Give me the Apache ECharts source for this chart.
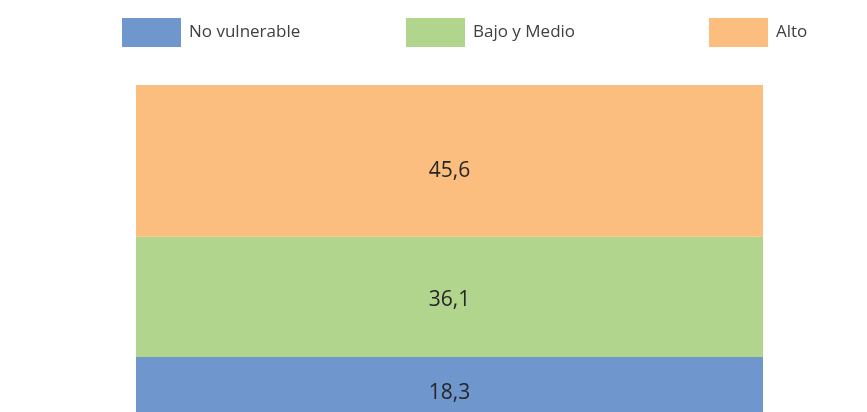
<!DOCTYPE html>
<html>
<head>
<meta charset="utf-8">
<script src="https://cdn.jsdelivr.net/npm/echarts@6/dist/echarts.min.js"></script>
<style>
  html, body { margin: 0; padding: 0; background: #fff; }
  #chart { width: 867px; height: 412px; }
</style>
</head>
<body>
<div id="chart"></div>
<script>
var categories = ["Total"];
var seriesNames = ["No vulnerable", "Bajo y Medio", "Alto"];
var noVulnerable = [18.3];
var bajoMedio = [36.1];
var alto = [45.6];
var colors = ["#6F96CD", "#B1D58C", "#FBBE7E"];

var myChart = echarts.init(document.getElementById("chart"));
var fontName = "'Open Sans', sans-serif";

function fmt(p) {
  return String(p.value).replace(".", ",");
}

function makeSeries(name, data, color, dy) {
  return {
    name: name,
    type: "bar",
    stack: "total",
    data: data,
    barWidth: "100%",
    itemStyle: { color: color },
    label: {
      show: true,
      position: "inside",
      offset: [0, dy],
      formatter: fmt,
      color: "#262626",
      fontSize: 21,
      fontFamily: fontName
    }
  };
}

var legendLefts = [122, 406, 709];
var legends = seriesNames.map(function (n, i) {
  return {
    data: [n],
    left: legendLefts[i],
    top: 18,
    itemWidth: 59,
    itemHeight: 29,
    padding: 0,
    icon: "rect",
    selectedMode: false,
    textStyle: { fontSize: 17, color: "#404040", fontFamily: fontName, padding: [0, 0, 0, 3] }
  };
});

var option = {
  animation: false,
  legend: legends,
  grid: { left: 136, right: 104, top: 85, height: 333, outerBoundsMode: "none", containLabel: false },
  xAxis: {
    type: "category",
    data: categories,
    show: false
  },
  yAxis: {
    type: "value",
    min: 0,
    max: 100,
    show: false
  },
  series: [
    makeSeries(seriesNames[0], noVulnerable, colors[0], 5),
    makeSeries(seriesNames[1], bajoMedio, colors[1], 3),
    makeSeries(seriesNames[2], alto, colors[2], 10)
  ]
};

myChart.setOption(option);
window.addEventListener("resize", function () {
  myChart.resize();
});
</script>
</body>
</html>
